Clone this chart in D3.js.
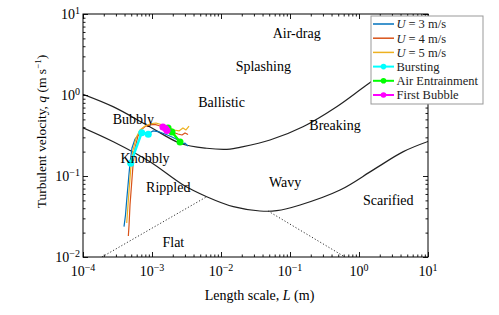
<!DOCTYPE html>
<html>
<head>
<meta charset="utf-8">
<script src="https://cdn.jsdelivr.net/npm/d3@7"></script>
<style>
body { margin: 0; background: #fff; }
</style>
</head>
<body>
<div id="chart"></div>
<script>
// regime boundaries, L (m) and q (m/s)
var upperL = [1e-4, 2.72e-4, 8.38e-4, 2.55e-3, 6.21e-3, 1.35e-2, 1.88e-2, 5.13e-2, 0.154, 0.475, 1.29, 10];
var upperQ = [1.02, 0.718, 0.427, 0.254, 0.220, 0.215, 0.226, 0.278, 0.406, 0.718, 1.33, 4.64];
var lowerL = [1e-4, 2.75e-4, 9.35e-4, 2.84e-3, 6.21e-3, 1.51e-2, 3.67e-2, 6.41e-2, 0.140, 0.531, 1.61, 4.39, 10];
var lowerQ = [0.394, 0.265, 0.150, 0.0774, 0.0555, 0.0418, 0.0370, 0.0373, 0.0439, 0.0671, 0.119, 0.200, 0.267];
var flatLeftL = [1.88e-4, 6.21e-3], flatLeftQ = [0.01, 0.0555];
var flatRightL = [0.048, 0.627], flatRightQ = [0.037, 0.01];

// measured trajectories
var u3L = [3.93e-4, 4.13e-4, 4.30e-4, 4.56e-4, 4.80e-4, 5.13e-4, 5.68e-4, 6.49e-4, 7.41e-4, 8.75e-4, 1.03e-3, 1.22e-3, 1.54e-3, 1.95e-3, 2.38e-3, 2.72e-3, 3.01e-3, 3.33e-3];
var u3Q = [0.0237, 0.0330, 0.0506, 0.0893, 0.144, 0.222, 0.286, 0.330, 0.349, 0.330, 0.360, 0.354, 0.330, 0.303, 0.278, 0.248, 0.255, 0.234];
var u4L = [4.54e-4, 4.65e-4, 4.80e-4, 5.05e-4, 5.31e-4, 5.68e-4, 6.27e-4, 6.93e-4, 7.93e-4, 9.35e-4, 1.10e-3, 1.31e-3, 1.60e-3, 1.95e-3, 2.38e-3, 2.72e-3, 3.01e-3, 3.33e-3];
var u4Q = [0.0182, 0.0248, 0.0439, 0.0774, 0.137, 0.222, 0.312, 0.370, 0.408, 0.427, 0.433, 0.414, 0.380, 0.349, 0.330, 0.321, 0.340, 0.325];
var u5L = [4.30e-4, 4.49e-4, 4.72e-4, 4.97e-4, 5.31e-4, 5.86e-4, 6.70e-4, 7.93e-4, 9.35e-4, 1.14e-3, 1.40e-3, 1.71e-3, 2.08e-3, 2.46e-3, 2.81e-3, 3.11e-3, 3.44e-3];
var u5Q = [0.0263, 0.0439, 0.0774, 0.137, 0.209, 0.294, 0.370, 0.414, 0.439, 0.451, 0.427, 0.403, 0.370, 0.360, 0.392, 0.370, 0.414];

// events (one point per U)
var burstL = [4.91e-4, 7.10e-4, 8.83e-4], burstQ = [0.144, 0.343, 0.327];
var entrainL = [1.71e-3, 1.95e-3, 2.55e-3], entrainQ = [0.392, 0.349, 0.263];
var bubbleL = [1.44e-3, 1.57e-3, 1.65e-3], bubbleQ = [0.403, 0.385, 0.365];

var regionNames = ["Air-drag", "Splashing", "Ballistic", "Breaking", "Wavy", "Scarified", "Bubbly", "Knobbly", "Rippled", "Flat"];
var regionL = [0.125, 0.041, 0.0102, 0.449, 0.0848, 2.66, 5.36e-4, 7.93e-4, 1.72e-3, 2.04e-3];
var regionQ = [5.78, 2.30, 0.826, 0.427, 0.0851, 0.0506, 0.501, 0.166, 0.0724, 0.0152];

var xExp = [-4, -3, -2, -1, 0, 1];
var yExp = [-2, -1, 0, 1];

var W = 499, H = 315;
var margin = {top: 14, right: 71, bottom: 58, left: 83};
var w = W - margin.left - margin.right, h = H - margin.top - margin.bottom;
var serif = "Liberation Serif, Times New Roman, Times, serif";

var svg = d3.select("#chart").append("svg").attr("width", W).attr("height", H)
.attr("font-family", serif).style("font-family", serif);
var g = svg.append("g").attr("transform", "translate(" + margin.left + "," + margin.top + ")");

var x = d3.scaleLog().domain([1e-4, 10]).range([0, w]);
var y = d3.scaleLog().domain([1e-2, 10]).range([h, 0]);

var zip = function(a, b){ return a.map(function(v, i){ return [v, b[i]]; }); };
var line = d3.line().x(function(d){ return x(d[0]); }).y(function(d){ return y(d[1]); });
var smooth = d3.line().curve(d3.curveCatmullRom.alpha(0.5)).x(function(d){ return x(d[0]); }).y(function(d){ return y(d[1]); });

var minors = function(lo, hi){
	var out = [];
	for (var e = lo; e < hi; e++) for (var k = 2; k < 10; k++) out.push(k * Math.pow(10, e));
	return out;
};
var xMaj = xExp.map(function(e){ return Math.pow(10, e); });
var yMaj = yExp.map(function(e){ return Math.pow(10, e); });

g.append("clipPath").attr("id", "clip").append("rect").attr("width", w).attr("height", h);
var plot = g.append("g").attr("clip-path", "url(#clip)");

// boundaries
plot.append("path").attr("d", smooth(zip(upperL, upperQ))).attr("fill", "none").attr("stroke", "#222").attr("stroke-width", 1.2);
plot.append("path").attr("d", smooth(zip(lowerL, lowerQ))).attr("fill", "none").attr("stroke", "#222").attr("stroke-width", 1.2);
[[flatLeftL, flatLeftQ], [flatRightL, flatRightQ]].forEach(function(p){
	plot.append("path").attr("d", line(zip(p[0], p[1]))).attr("fill", "none")
	.attr("stroke", "#333").attr("stroke-width", 1).attr("stroke-dasharray", "1.2,2");
});

// region labels
g.selectAll("text.region").data(regionNames).enter().append("text")
.attr("class", "region")
.attr("x", function(d, i){ return x(regionL[i]); })
.attr("y", function(d, i){ return y(regionQ[i]); })
.attr("dy", "0.35em").attr("text-anchor", "middle").attr("font-size", 14)
.text(function(d){ return d; });

// trajectories
var runs = [
	{L: u3L, Q: u3Q, color: "#0072BD"},
	{L: u4L, Q: u4Q, color: "#D95319"},
	{L: u5L, Q: u5Q, color: "#EDB120"}
];
runs.forEach(function(r){
	plot.append("path").attr("d", line(zip(r.L, r.Q))).attr("fill", "none")
	.attr("stroke", r.color).attr("stroke-width", 1.2).attr("stroke-linejoin", "round");
});

var events = [
	{L: burstL, Q: burstQ, color: "#00FFFF"},
	{L: entrainL, Q: entrainQ, color: "#00FF00"},
	{L: bubbleL, Q: bubbleQ, color: "#FF00FF"}
];
events.forEach(function(ev){
	var pts = zip(ev.L, ev.Q);
	plot.append("path").attr("d", line(pts)).attr("fill", "none")
	.attr("stroke", ev.color).attr("stroke-width", 2.5);
	plot.selectAll(null).data(pts).enter().append("circle")
	.attr("cx", function(d){ return x(d[0]); })
	.attr("cy", function(d){ return y(d[1]); })
	.attr("r", 3.5).attr("fill", ev.color);
});

// ticks on all four sides, pointing inward
var tickAxes = [
	{gen: d3.axisBottom(x), t: "translate(0," + h + ")", maj: xMaj, min: minors(-4, 1)},
	{gen: d3.axisTop(x), t: "translate(0,0)", maj: xMaj, min: minors(-4, 1)},
	{gen: d3.axisLeft(y), t: "translate(0,0)", maj: yMaj, min: minors(-2, 1)},
	{gen: d3.axisRight(y), t: "translate(" + w + ",0)", maj: yMaj, min: minors(-2, 1)}
];
tickAxes.forEach(function(a){
	[[a.maj, -5], [a.min, -2.5]].forEach(function(s){
		var ax = g.append("g").attr("transform", a.t)
		.call(a.gen.tickValues(s[0]).tickSize(s[1]).tickFormat(""));
		ax.select(".domain").remove();
		ax.selectAll(".tick line").attr("stroke", "#000").attr("stroke-width", 0.9);
	});
});
g.append("rect").attr("width", w).attr("height", h).attr("fill", "none").attr("stroke", "#000").attr("stroke-width", 1);

// tick labels 10^n
var pow = function(sel, e){
	sel.append("tspan").text("10");
	sel.append("tspan").attr("font-size", 10).attr("dy", -5.5).text(e < 0 ? "\u2212" + (-e) : e);
};
g.selectAll("text.xt").data(xExp).enter().append("text")
.attr("class", "xt").attr("x", function(d){ return x(Math.pow(10, d)); }).attr("y", h + 19)
.attr("text-anchor", "middle").attr("font-size", 14)
.each(function(d){ pow(d3.select(this), d); });
g.selectAll("text.yt").data(yExp).enter().append("text")
.attr("class", "yt").attr("x", -3).attr("y", function(d){ return y(Math.pow(10, d)) + 5; })
.attr("text-anchor", "end").attr("font-size", 14)
.each(function(d){ pow(d3.select(this), d); });

// axis titles
var xt = g.append("text").attr("x", w / 2 + 4).attr("y", h + 43).attr("text-anchor", "middle").attr("font-size", 14);
xt.append("tspan").text("Length scale, ");
xt.append("tspan").attr("font-style", "italic").text("L");
xt.append("tspan").text(" (m)");

var yt = g.append("text").attr("transform", "translate(-37," + (h / 2 - 4) + ") rotate(-90)")
.attr("text-anchor", "middle").attr("font-size", 13.5);
yt.append("tspan").text("Turbulent velocity, ");
yt.append("tspan").attr("font-style", "italic").text("q");
yt.append("tspan").text(" (m s");
yt.append("tspan").attr("font-size", 9).attr("dy", -5).text("\u22121");
yt.append("tspan").attr("dy", 5).text(")");

// legend
var legendItems = [
	{label: "3", color: "#0072BD", dot: false},
	{label: "4", color: "#D95319", dot: false},
	{label: "5", color: "#EDB120", dot: false},
	{label: "Bursting", color: "#00FFFF", dot: true},
	{label: "Air Entrainment", color: "#00FF00", dot: true},
	{label: "First Bubble", color: "#FF00FF", dot: true}
];
var lg = svg.append("g").attr("transform", "translate(371,16)");
lg.append("rect").attr("width", 112).attr("height", 88).attr("fill", "#fff").attr("stroke", "#999").attr("stroke-width", 1);
var row = lg.selectAll("g").data(legendItems).enter().append("g")
.attr("transform", function(d, i){ return "translate(0," + (8 + i * 14.2) + ")"; });
row.append("line").attr("x1", 2).attr("x2", 23).attr("stroke", function(d){ return d.color; })
.attr("stroke-width", function(d){ return d.dot ? 2 : 1.5; });
row.filter(function(d){ return d.dot; }).append("circle").attr("cx", 12.5).attr("r", 2.8)
.attr("fill", function(d){ return d.color; });
row.append("text").attr("x", 25.5).attr("dy", "0.35em").attr("font-size", 12.5).attr("fill", "#222")
.each(function(d){
	var t = d3.select(this);
	if (d.dot) { t.text(d.label); return; }
	// math-style spacing around the equals sign
	t.append("tspan").attr("font-style", "italic").text("U");
	t.append("tspan").attr("dx", 3).text("=");
	t.append("tspan").attr("dx", 3).text(d.label + " m/s");
});
</script>
</body>
</html>
